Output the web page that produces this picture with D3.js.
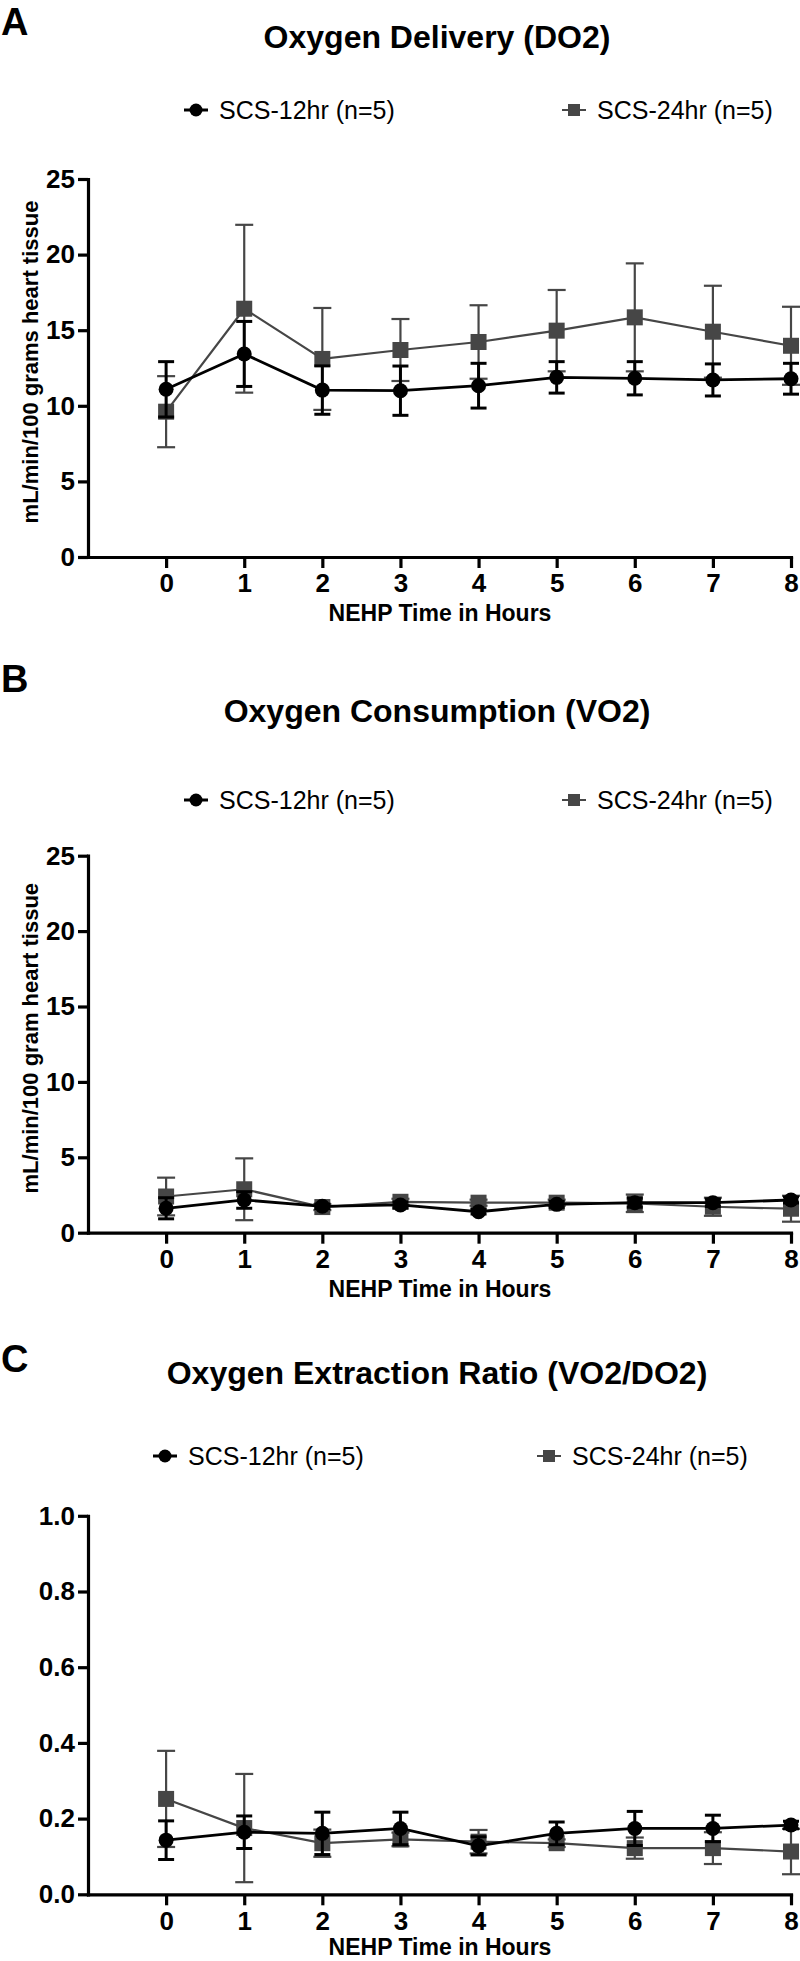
<!DOCTYPE html>
<html>
<head>
<meta charset="utf-8">
<script src="https://cdn.jsdelivr.net/npm/d3@7"></script>
<style>
  html, body { margin: 0; padding: 0; background: #fff; }
  svg { display: block; font-family: "Liberation Sans", Arial, Helvetica, sans-serif; }
</style>
</head>
<body>
<svg id="chart" width="800" height="1961"></svg>
<script>
// ---------- data ----------
const hours = [0, 1, 2, 3, 4, 5, 6, 7, 8];
const seriesNames = ["SCS-12hr (n=5)", "SCS-24hr (n=5)"];

// A: Oxygen Delivery (DO2)
const do2Mean12 = [11.09, 13.43, 11.04, 11.00, 11.33, 11.88, 11.82, 11.71, 11.79];
const do2SD12   = [1.83, 2.15, 1.60, 1.63, 1.48, 1.04, 1.10, 1.06, 1.02];
const do2Mean24 = [9.61, 16.42, 13.10, 13.69, 14.22, 14.97, 15.85, 14.90, 13.97];
const do2SD24   = [2.35, 5.55, 3.37, 2.05, 2.43, 2.69, 3.57, 3.04, 2.58];

// B: Oxygen Consumption (VO2)
const vo2Mean12 = [1.62, 2.17, 1.75, 1.84, 1.39, 1.88, 1.99, 1.99, 2.17];
const vo2SD12   = [0.70, 0.55, 0.15, 0.20, 0.15, 0.20, 0.30, 0.25, 0.20];
const vo2Mean24 = [2.40, 2.88, 1.70, 2.05, 1.99, 1.99, 1.95, 1.72, 1.59];
const vo2SD24   = [1.25, 2.05, 0.20, 0.20, 0.20, 0.20, 0.58, 0.60, 0.86];

// C: Oxygen Extraction Ratio (VO2/DO2)
const erMean12 = [0.143, 0.164, 0.161, 0.174, 0.128, 0.161, 0.174, 0.174, 0.183];
const erSD12   = [0.051, 0.043, 0.056, 0.043, 0.024, 0.030, 0.045, 0.035, 0.010];
const erMean24 = [0.252, 0.175, 0.135, 0.145, 0.139, 0.135, 0.122, 0.122, 0.113];
const erSD24   = [0.127, 0.143, 0.036, 0.018, 0.031, 0.010, 0.028, 0.042, 0.060];

const yTicksAB = [0, 5, 10, 15, 20, 25];
const yTicksC  = [0, 0.2, 0.4, 0.6, 0.8, 1.0];

const panelLetters = ["A", "B", "C"];
const panelTitles = ["Oxygen Delivery (DO2)", "Oxygen Consumption (VO2)", "Oxygen Extraction Ratio (VO2/DO2)"];
const yLabels = ["mL/min/100 grams heart tissue", "mL/min/100 gram heart tissue", ""];
const xLabel = "NEHP Time in Hours";

// ---------- layout ----------
const BLACK = "#000000";
const GRAY = "#464646";
const xLeft = 88, xRight = 791;

const panels = [
  { letter: panelLetters[0], title: panelTitles[0], ylabel: yLabels[0],
    m12: do2Mean12, s12: do2SD12, m24: do2Mean24, s24: do2SD24,
    ticks: yTicksAB, fmt: d3.format("d"), yMax: 25,
    top: 179, bottom: 557, letterY: 35, titleY: 48, legY: 110,
    leg1: 196, leg1t: 219, leg2: 574, leg2t: 597 },
  { letter: panelLetters[1], title: panelTitles[1], ylabel: yLabels[1],
    m12: vo2Mean12, s12: vo2SD12, m24: vo2Mean24, s24: vo2SD24,
    ticks: yTicksAB, fmt: d3.format("d"), yMax: 25,
    top: 855.7, bottom: 1232.7, letterY: 692, titleY: 722, legY: 800,
    leg1: 196, leg1t: 219, leg2: 574, leg2t: 597 },
  { letter: panelLetters[2], title: panelTitles[2], ylabel: yLabels[2],
    m12: erMean12, s12: erSD12, m24: erMean24, s24: erSD24,
    ticks: yTicksC, fmt: d3.format(".1f"), yMax: 1.0,
    top: 1515.8, bottom: 1894.3, letterY: 1372, titleY: 1384, legY: 1456,
    leg1: 165, leg1t: 188, leg2: 549, leg2t: 572 }
];

const svg = d3.select("#chart");
const x = d3.scaleLinear().domain([-1, 8]).range([xLeft, xRight]);

panels.forEach(p => {
  const g = svg.append("g");
  const y = d3.scaleLinear().domain([0, p.yMax]).range([p.bottom, p.top]);

  // letter
  g.append("text").attr("x", 1).attr("y", p.letterY)
    .attr("font-size", 38).attr("font-weight", "bold").text(p.letter);

  // title
  g.append("text").attr("x", 437).attr("y", p.titleY).attr("text-anchor", "middle")
    .attr("font-size", 32).attr("font-weight", "bold").text(p.title);

  // legend
  const lg = g.append("g");
  lg.append("line").attr("x1", p.leg1 - 12).attr("x2", p.leg1 + 12)
    .attr("y1", p.legY).attr("y2", p.legY).attr("stroke", BLACK).attr("stroke-width", 3);
  lg.append("circle").attr("cx", p.leg1).attr("cy", p.legY).attr("r", 6.5).attr("fill", BLACK);
  lg.append("text").attr("x", p.leg1t).attr("y", p.legY + 9)
    .attr("font-size", 25).text(seriesNames[0]);
  lg.append("line").attr("x1", p.leg2 - 12).attr("x2", p.leg2 + 12)
    .attr("y1", p.legY).attr("y2", p.legY).attr("stroke", GRAY).attr("stroke-width", 2);
  lg.append("rect").attr("x", p.leg2 - 6).attr("y", p.legY - 6).attr("width", 12).attr("height", 12).attr("fill", GRAY);
  lg.append("text").attr("x", p.leg2t).attr("y", p.legY + 9)
    .attr("font-size", 25).text(seriesNames[1]);

  // axes
  const yAxis = g.append("g").attr("transform", `translate(${xLeft},0)`)
    .call(d3.axisLeft(y).tickValues(p.ticks).tickFormat(p.fmt).tickSize(10).tickSizeOuter(0).tickPadding(3));
  const xAxis = g.append("g").attr("transform", `translate(0,${p.bottom})`)
    .call(d3.axisBottom(x).tickValues(hours).tickFormat(d3.format("d")).tickSize(11).tickSizeOuter(0).tickPadding(6));
  [yAxis, xAxis].forEach(a => {
    a.select(".domain").attr("stroke", BLACK).attr("stroke-width", 3.2).attr("stroke-linecap", "square");
    a.selectAll(".tick line").attr("stroke", BLACK).attr("stroke-width", 3.2);
    a.selectAll(".tick text").attr("font-size", 26).attr("font-weight", "bold")
      .attr("fill", BLACK).attr("font-family", "'Liberation Sans', Arial, sans-serif");
  });

  // axis titles
  g.append("text").attr("x", 440).attr("y", Math.min(p.bottom + 64, 1955)).attr("text-anchor", "middle")
    .attr("font-size", 23).attr("font-weight", "bold").text(xLabel);
  if (p.ylabel) {
    const cy = (p.top + p.bottom) / 2 - 6;
    g.append("text").attr("transform", `translate(38,${cy}) rotate(-90)`)
      .attr("text-anchor", "middle").attr("font-size", 22).attr("font-weight", "bold").text(p.ylabel);
  }

  // series: gray (24hr) first, then black (12hr) on top
  const series = [
    { m: p.m24, s: p.s24, color: GRAY, lw: 2.2, ew: 2.2, cap: 9, shape: "square" },
    { m: p.m12, s: p.s12, color: BLACK, lw: 2.8, ew: 3, cap: 8, shape: "circle" }
  ];
  series.forEach(s => {
    const pts = hours.map((h, i) => ({ h, m: s.m[i], sd: s.s[i] }));
    const sg = g.append("g");
    // error bars
    const eb = sg.selectAll(".eb").data(pts).enter().append("g");
    eb.append("line").attr("x1", d => x(d.h)).attr("x2", d => x(d.h))
      .attr("y1", d => y(d.m - d.sd)).attr("y2", d => y(d.m + d.sd))
      .attr("stroke", s.color).attr("stroke-width", s.ew);
    eb.append("line").attr("x1", d => x(d.h) - s.cap).attr("x2", d => x(d.h) + s.cap)
      .attr("y1", d => y(d.m + d.sd)).attr("y2", d => y(d.m + d.sd))
      .attr("stroke", s.color).attr("stroke-width", s.ew);
    eb.append("line").attr("x1", d => x(d.h) - s.cap).attr("x2", d => x(d.h) + s.cap)
      .attr("y1", d => y(d.m - d.sd)).attr("y2", d => y(d.m - d.sd))
      .attr("stroke", s.color).attr("stroke-width", s.ew);
    // line
    sg.append("path").datum(pts)
      .attr("d", d3.line().x(d => x(d.h)).y(d => y(d.m)))
      .attr("fill", "none").attr("stroke", s.color).attr("stroke-width", s.lw);
    // markers
    if (s.shape === "circle") {
      sg.selectAll(".mk").data(pts).enter().append("circle")
        .attr("cx", d => x(d.h)).attr("cy", d => y(d.m)).attr("r", 7.5).attr("fill", s.color);
    } else {
      sg.selectAll(".mk").data(pts).enter().append("rect")
        .attr("x", d => x(d.h) - 8).attr("y", d => y(d.m) - 8)
        .attr("width", 16).attr("height", 16).attr("fill", s.color);
    }
  });
});
</script>
</body>
</html>
